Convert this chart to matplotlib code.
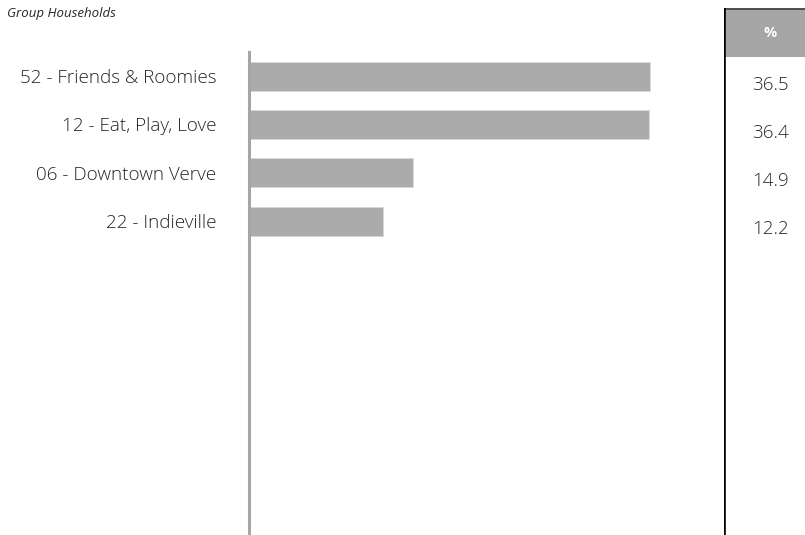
import matplotlib.pyplot as plt

# data
segments = ['52 - Friends & Roomies', '12 - Eat, Play, Love', '06 - Downtown Verve', '22 - Indieville']
percent = [36.5, 36.4, 14.9, 12.2]
title = 'Group Households'
col_header = '%'

W, H = 805, 535
plt.rcParams['font.family'] = ['Open Sans', 'DejaVu Sans']

fig = plt.figure(figsize=(W / 100, H / 100), dpi=100)


def fx(px):
    return px / W


def fy(py):
    return 1 - py / H


# bar chart area
ax = fig.add_axes([fx(249), 0, fx(450), (H - 52) / H])
ypos = list(range(len(segments)))
ax.barh(ypos, percent, height=0.6, color='#ababab', edgecolor='#d8d8d8', linewidth=0.6)
ax.set_xlim(0, 41)
ax.set_ylim(9.5, -0.5)
ax.set_yticks(ypos)
ax.set_yticklabels(segments, fontsize=13.6, color='#262626', fontweight='light')
ax.tick_params(axis='y', length=0, pad=23.5)
ax.set_xticks([])
for s in ['top', 'right', 'bottom']:
    ax.spines[s].set_visible(False)
ax.spines['left'].set_color('#a6a6a6')
ax.spines['left'].set_linewidth(2.2)

fig.text(fx(7), fy(13), title, fontsize=9.5, style='italic', color='#262626', va='center', ha='left')

# table on the right
tab = fig.add_axes([fx(724), 0, fx(W - 724), fy(8)])
tab.set_xlim(0, 1)
tab.set_ylim(527, 0)
tab.axis('off')
tab.add_patch(plt.Rectangle((0, 0), 1, 49, color='#a6a6a6', lw=0))
tab.axhline(0.5, color='#404040', lw=1.2)
tab.axvline(0, color='black', lw=2.6)
tab.text(0.57, 25, col_header, fontsize=10.5, fontweight='bold', color='white', ha='center', va='center')
for i, v in enumerate(percent):
    tab.text(0.57, 77 + 48 * i, f'{v:.1f}', fontsize=13.5, color='#262626', ha='center', va='center',
             fontweight='light')

fig.savefig('out.png', dpi=100)
